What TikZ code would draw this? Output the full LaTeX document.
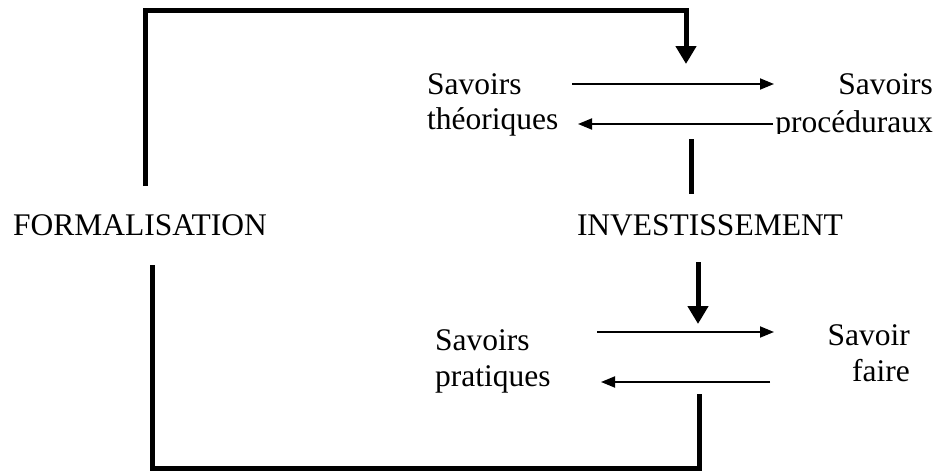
\documentclass[tikz,border=0pt]{standalone}
\usepackage{fontspec}
\setmainfont{Liberation Serif}
\usetikzlibrary{arrows.meta}
\begin{document}
\begin{tikzpicture}[x=1pt,y=-1pt,
  lbl/.style={font=\fontsize{31.5}{36}\selectfont, inner sep=0pt},
  thick line/.style={line width=5pt},
  thin arrow/.style={line width=1.8pt,-{Triangle[length=14pt,width=11pt]}},
  big arrow/.style={line width=5pt,-{Triangle[length=18pt,width=20pt]}}]
\useasboundingbox (0,0) rectangle (938,471);
% labels
\node[lbl, anchor=base] (form) at (140,235) {FORMALISATION};
\node[lbl, anchor=base] (inv) at (710,235) {INVESTISSEMENT};
\node[lbl, anchor=base west] (st1) at (427,94) {Savoirs};
\node[lbl, anchor=base west] (st2) at (427,129) {théoriques};
\node[lbl, anchor=base east] (sp1) at (933,94) {Savoirs};
\begin{scope}
\clip (760,100) rectangle (938,133);
\node[lbl, anchor=base east] (sp2) at (933,132) {procéduraux};
\end{scope}
\node[lbl, anchor=base west] (pr1) at (435,350) {Savoirs};
\node[lbl, anchor=base west] (pr2) at (435,386) {pratiques};
\node[lbl, anchor=base east] (sf1) at (910,345) {Savoir};
\node[lbl, anchor=base east] (sf2) at (910,381) {faire};
% coordinates
\coordinate (a1) at (145,186);
\coordinate (a2) at (145,10);
\coordinate (a3) at (686,10);
\coordinate (a4) at (686,64);
\coordinate (b1) at (691,139);
\coordinate (b2) at (691,194);
\coordinate (c1) at (698,262);
\coordinate (c2) at (698,324);
\coordinate (d1) at (152,265);
\coordinate (d2) at (152,468);
\coordinate (d3) at (699,468);
\coordinate (d4) at (699,394);
\coordinate (e1) at (572,84);
\coordinate (e2) at (774,84);
\coordinate (f1) at (773,124);
\coordinate (f2) at (578,124);
\coordinate (g1) at (597,332);
\coordinate (g2) at (774,332);
\coordinate (h1) at (770,382);
\coordinate (h2) at (601,382);
% connectors
\draw[big arrow] (a1) -- (a2) -- (a3) -- (a4);
\draw[thick line] (b1) -- (b2);
\draw[big arrow] (c1) -- (c2);
\draw[thick line] (d1) -- (d2) -- (d3) -- (d4);
\draw[thin arrow] (e1) -- (e2);
\draw[thin arrow] (f1) -- (f2);
\draw[thin arrow] (g1) -- (g2);
\draw[thin arrow] (h1) -- (h2);
\end{tikzpicture}
\end{document}
